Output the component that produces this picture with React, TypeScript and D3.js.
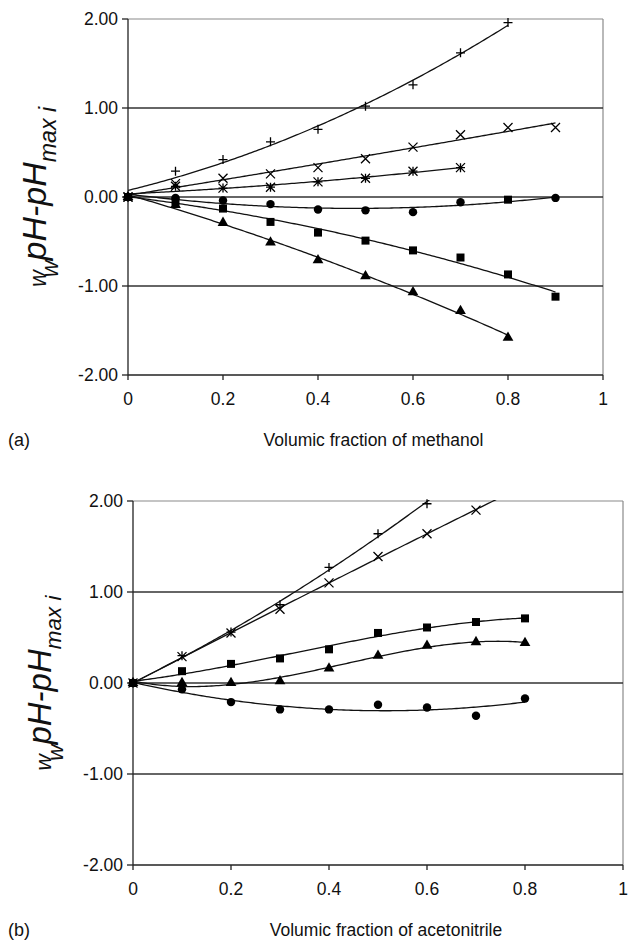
import React from 'react';
import * as d3 from 'd3';

// volumic fraction of organic solvent
const fractions = [0, 0.1, 0.2, 0.3, 0.4, 0.5, 0.6, 0.7, 0.8, 0.9];

// (a) methanol
const methanolPlus = [0, 0.29, 0.42, 0.62, 0.76, 1.02, 1.26, 1.62, 1.96];
const methanolCross = [0, 0.15, 0.21, 0.26, 0.33, 0.43, 0.56, 0.70, 0.78, 0.78];
const methanolStar = [0, 0.12, 0.10, 0.11, 0.17, 0.21, 0.29, 0.33];
const methanolCircle = [0, -0.01, -0.04, -0.08, -0.14, -0.15, -0.17, -0.06, -0.03, -0.01];
const methanolSquare = [0, -0.05, -0.13, -0.28, -0.40, -0.49, -0.60, -0.68, -0.87, -1.12];
const methanolTriangle = [0, -0.09, -0.29, -0.51, -0.71, -0.89, -1.07, -1.28, -1.58];
// the circle series at 0.8 is drawn with a square marker in the original
const methanolCircleOddX = 0.8;

// (b) acetonitrile
const acetoPlus = [0, 0.30, 0.56, 0.86, 1.27, 1.64, 1.97];
const acetoCross = [0, 0.29, 0.55, 0.81, 1.10, 1.39, 1.64, 1.90];
const acetoSquare = [0, 0.13, 0.21, 0.27, 0.37, 0.55, 0.61, 0.67, 0.71];
const acetoTriangle = [0, 0.0, 0.0, 0.02, 0.16, 0.30, 0.41, 0.45, 0.44];
const acetoCircle = [0, -0.07, -0.21, -0.29, -0.29, -0.24, -0.27, -0.36, -0.17];

const yTicks = [-2, -1, 0, 1, 2];
const xTicks = [0, 0.2, 0.4, 0.6, 0.8, 1];

type Shape = 'plus' | 'cross' | 'star' | 'circle' | 'square' | 'triangle';
type Series = { values: number[]; shape: Shape; degree: number; lineTo?: number; oddSquareAt?: number };

const methanolSeries: Series[] = [
    { values: methanolPlus, shape: 'plus', degree: 2 },
    { values: methanolCross, shape: 'cross', degree: 2 },
    { values: methanolStar, shape: 'star', degree: 2 },
    { values: methanolCircle, shape: 'circle', degree: 2, oddSquareAt: methanolCircleOddX },
    { values: methanolTriangle, shape: 'triangle', degree: 2 },
    { values: methanolSquare, shape: 'square', degree: 2 },
];

const acetoSeries: Series[] = [
    { values: acetoPlus, shape: 'plus', degree: 2, lineTo: 0.7 },
    { values: acetoCross, shape: 'cross', degree: 2, lineTo: 0.8 },
    { values: acetoCircle, shape: 'circle', degree: 3 },
    { values: acetoTriangle, shape: 'triangle', degree: 3 },
    { values: acetoSquare, shape: 'square', degree: 3 },
];

// least squares polynomial (Excel style trendline)
const polyfit = (xs: number[], ys: number[], deg: number) => {
    const n = deg + 1;
    const A = d3.range(n).map(() => new Array(n + 1).fill(0));
    xs.forEach((x, k) => {
        for (let i = 0; i < n; i++) {
            for (let j = 0; j < n; j++) A[i][j] += Math.pow(x, i + j);
            A[i][n] += ys[k] * Math.pow(x, i);
        }
    });
    for (let c = 0; c < n; c++) {
        let p = c;
        for (let r = c + 1; r < n; r++) if (Math.abs(A[r][c]) > Math.abs(A[p][c])) p = r;
        [A[c], A[p]] = [A[p], A[c]];
        for (let r = 0; r < n; r++) {
            if (r === c) continue;
            const f = A[r][c] / A[c][c];
            for (let k = c; k <= n; k++) A[r][k] -= f * A[c][k];
        }
    }
    const coef = A.map((row, i) => row[n] / row[i]);
    return (x: number) => coef.reduce((s, c, i) => s + c * Math.pow(x, i), 0);
};

const symbolPath = (shape: Shape) => {
    if (shape === 'circle') return d3.symbol(d3.symbolCircle, 56)();
    if (shape === 'square') return d3.symbol(d3.symbolSquare, 64)();
    if (shape === 'triangle') return d3.symbol(d3.symbolTriangle, 50)();
    const a = 4.5;
    const plus = `M${-a},0H${a}M0,${-a}V${a}`;
    const cross = `M${-a},${-a}L${a},${a}M${-a},${a}L${a},${-a}`;
    if (shape === 'plus') return plus;
    if (shape === 'cross') return cross;
    return plus + cross;
};

const font = '"Liberation Sans", Arial, Helvetica, sans-serif';

function Panel({ id, series, left, right, top, bottom, tag, xLabel, labelSize }: {
    id: string; series: Series[]; left: number; right: number; top: number; bottom: number;
    tag: string; xLabel: string; labelSize: number;
}) {
    const x = d3.scaleLinear().domain([0, 1]).range([left, right]);
    const y = d3.scaleLinear().domain([-2, 2]).range([bottom, top]);

    const line = d3.line<[number, number]>().x(d => x(d[0])).y(d => y(d[1]));

    return (
        <g fontFamily={font}>
            <defs>
                <clipPath id={`clip-${id}`}>
                    <rect x={left} y={top - 1} width={right - left} height={bottom - top + 2} />
                </clipPath>
            </defs>

            {/* frame */}
            <line x1={left} x2={right} y1={y(2)} y2={y(2)} stroke="#8a8a8a" strokeWidth={1.2} />
            <line x1={right} x2={right} y1={top} y2={bottom} stroke="#8a8a8a" strokeWidth={1.2} />
            {[-1, 0, 1].map(t => (
                <line key={t} x1={left} x2={right} y1={y(t)} y2={y(t)} stroke="#333" strokeWidth={1.3} />
            ))}

            {/* y axis */}
            <line x1={left} x2={left} y1={top} y2={bottom} stroke="#222" strokeWidth={1.3} />
            {yTicks.map(t => (
                <g key={t}>
                    <line x1={left - 6} x2={left} y1={y(t)} y2={y(t)} stroke="#222" strokeWidth={1.3} />
                    <text x={left - 10} y={y(t)} dy="0.36em" textAnchor="end" fontSize={17.5} fill="#111">
                        {t.toFixed(2)}
                    </text>
                </g>
            ))}

            {/* x axis */}
            <line x1={left} x2={right} y1={bottom} y2={bottom} stroke="#222" strokeWidth={1.3} />
            {xTicks.map(t => (
                <g key={t}>
                    <line x1={x(t)} x2={x(t)} y1={bottom} y2={bottom + 5} stroke="#222" strokeWidth={1.3} />
                    <text x={x(t)} y={bottom + 30} textAnchor="middle" fontSize={17.5} fill="#111">
                        {String(t)}
                    </text>
                </g>
            ))}

            {/* trendlines */}
            <g clipPath={`url(#clip-${id})`}>
                {series.map((s, i) => {
                    const xs = fractions.slice(0, s.values.length);
                    const f = polyfit(xs, s.values, s.degree);
                    const end = s.lineTo ?? xs[xs.length - 1];
                    const pts = d3.range(0, end + 1e-9, 0.005).map(v => [v, f(v)] as [number, number]);
                    return <path key={i} d={line(pts) ?? ''} fill="none" stroke="#111" strokeWidth={1.3} />;
                })}
            </g>

            {/* markers */}
            {series.map((s, i) => (
                <g key={i}>
                    {s.values.map((v, j) => {
                        const shape: Shape = s.oddSquareAt !== undefined && Math.abs(fractions[j] - s.oddSquareAt) < 1e-9 ? 'square' : s.shape;
                        const stroked = shape === 'plus' || shape === 'cross' || shape === 'star';
                        return (
                            <path key={j} d={symbolPath(shape) ?? ''}
                                transform={`translate(${x(fractions[j])},${y(v)})`}
                                fill={stroked ? 'none' : '#000'} stroke="#000" strokeWidth={stroked ? 1.3 : 0} />
                        );
                    })}
                </g>
            ))}

            {/* y label */}
            <text transform={`translate(${left - 82},${(top + bottom) / 2}) rotate(-90)`} textAnchor="middle"
                fontStyle="italic" fontSize={labelSize} fill="#111">
                <tspan fontSize={labelSize * 0.68}>w</tspan>
                <tspan fontSize={labelSize * 0.68} dx={-labelSize * 0.2} dy={labelSize * 0.36}>w</tspan>
                <tspan dy={-labelSize * 0.36}>pH-pH</tspan>
                <tspan fontSize={labelSize * 0.68} dy={labelSize * 0.3}>max i</tspan>
            </text>

            {/* captions */}
            <text x={8} y={bottom + 71} fontSize={18} fill="#111">{tag}</text>
            <text x={(left + right) / 2 + 8} y={bottom + 71} textAnchor="middle" fontSize={17.5} fill="#111">{xLabel}</text>
        </g>
    );
}

export default function App() {
    return (
        <svg width={629} height={941} style={{ position: 'absolute', left: 0, top: 0, background: '#fff' }}>
            <rect width={629} height={941} fill="#fff" />
            <Panel id="a" series={methanolSeries} left={128} right={603} top={19} bottom={375}
                tag="(a)" xLabel="Volumic fraction of methanol" labelSize={34} />
            <Panel id="b" series={acetoSeries} left={133} right={623} top={501} bottom={865}
                tag="(b)" xLabel="Volumic fraction of acetonitrile" labelSize={33} />
        </svg>
    );
}
